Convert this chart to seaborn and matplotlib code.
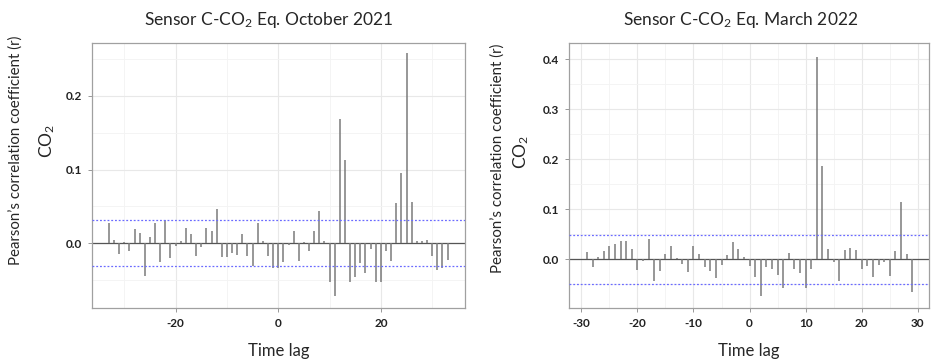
import numpy as np
import pandas as pd
import matplotlib
matplotlib.use("Agg")
import matplotlib.pyplot as plt
from matplotlib.ticker import MultipleLocator
import seaborn as sns

sns.set_theme(style="white")
plt.rcParams["font.family"] = ["Lato", "DejaVu Sans"]
plt.rcParams["mathtext.default"] = "regular"
plt.rcParams["axes.unicode_minus"] = False

# cross-correlation, October 2021 (lags -33..33)
lags_oct = list(range(-33, 34))
r_oct = [
    0.027, 0.004, -0.014, 0.002, -0.010, 0.019, 0.014, -0.045, 0.008, 0.027,
    -0.026, 0.031, -0.020, -0.004, 0.003, 0.021, 0.013, -0.018, -0.005, 0.021,
    0.016, 0.046, -0.019, -0.019, -0.013, -0.016, 0.013, -0.017, -0.031, 0.027,
    0.003, -0.018, -0.034, -0.034, -0.026, -0.002, 0.017, -0.024, 0.001, -0.010,
    0.016, 0.044, 0.003, -0.053, -0.072, 0.169, 0.113, -0.053, -0.046, -0.027,
    -0.040, -0.008, -0.053, -0.053, -0.010, -0.024, 0.055, 0.096, 0.259, 0.056,
    0.003, 0.003, 0.005, -0.017, -0.037, -0.034, -0.023,
]
ci_oct = 0.031

# cross-correlation, March 2022 (lags -29..29)
lags_mar = list(range(-29, 30))
r_mar = [
    0.015, -0.016, 0.004, 0.017, 0.026, 0.030, 0.037, 0.036, 0.021, -0.021,
    -0.003, 0.040, -0.043, -0.024, 0.011, 0.027, 0.002, -0.010, -0.026, 0.027,
    0.010, -0.015, -0.023, -0.037, -0.012, 0.009, 0.035, 0.020, 0.004, -0.014,
    -0.035, -0.073, -0.015, -0.019, -0.032, -0.058, 0.012, -0.019, -0.028, -0.058,
    -0.019, 0.405, 0.187, 0.021, -0.005, -0.043, 0.018, 0.022, 0.019, -0.019,
    -0.013, -0.036, -0.012, -0.006, -0.034, 0.017, 0.114, 0.010, -0.066,
]
ci_mar = 0.049

titles = ["Sensor C-CO$_2$ Eq. October 2021", "Sensor C-CO$_2$ Eq. March 2022"]

fig = plt.figure(figsize=(9.32, 3.59), dpi=100)
ax1 = fig.add_axes([92 / 932, 1 - 308 / 359, 373 / 932, 265 / 359])
ax2 = fig.add_axes([569 / 932, 1 - 308 / 359, 360 / 932, 265 / 359])

panels = [
    (ax1, lags_oct, r_oct, ci_oct, (-36.3, 36.4), (-0.088, 0.272), 20, 0.1),
    (ax2, lags_mar, r_mar, ci_mar, (-32.2, 32.0), (-0.098, 0.433), 10, 0.1),
]

for ax, lags, r, ci, xl, yl, xstep, ystep in panels:
    df = pd.DataFrame({"lag": lags, "r": r})
    ax.vlines(df["lag"], 0, df["r"], color="#7a7a7a", linewidth=1.1, zorder=3)
    ax.axhline(0, color="#555555", linewidth=0.9, zorder=2)
    for c in (ci, -ci):
        ax.axhline(c, color="#6b6bff", linewidth=0.9, linestyle=(0, (1.5, 1.5)), zorder=4)
    ax.set_xlim(*xl)
    ax.set_ylim(*yl)
    ax.xaxis.set_major_locator(MultipleLocator(xstep))
    ax.xaxis.set_minor_locator(MultipleLocator(xstep / 2))
    ax.yaxis.set_major_locator(MultipleLocator(ystep))
    ax.yaxis.set_minor_locator(MultipleLocator(ystep / 2))
    ax.grid(which="major", color="#e8e8e8", linewidth=0.8)
    ax.grid(which="minor", color="#f3f3f3", linewidth=0.6)
    ax.set_axisbelow(True)
    ax.tick_params(axis="both", which="major", length=3, width=0.6, color="#888888",
                   labelsize=8.5, labelcolor="#222222", pad=4, bottom=True, left=True)
    for lbl in ax.get_xticklabels() + ax.get_yticklabels():
        lbl.set_fontweight("bold")
    for s in ax.spines.values():
        s.set_color("#a0a0a0")
        s.set_linewidth(0.9)
    ax.yaxis.set_major_formatter(plt.FuncFormatter(lambda v, p: f"{v:.1f}"))
    ax.set_xlabel("Time lag", fontsize=12, labelpad=10)
    ax.set_ylabel("")

# titles and y labels placed like the original layout
fig.text(269 / 932, 1 - 20 / 359, titles[0], ha="center", va="center", fontsize=12.5)
fig.text(741 / 932, 1 - 20 / 359, titles[1], ha="center", va="center", fontsize=12.5)
for x, yc in [(16, 150), (498, 158)]:
    fig.text(x / 932, 1 - yc / 359, "Pearson’s correlation coefficient (r)",
             rotation=90, ha="center", va="center", fontsize=10.8)
for x, yc in [(47, 141), (521, 152)]:
    fig.text(x / 932, 1 - yc / 359, "CO$_2$", rotation=90, ha="center", va="center", fontsize=12.5)

fig.savefig("out.png", dpi=100)
